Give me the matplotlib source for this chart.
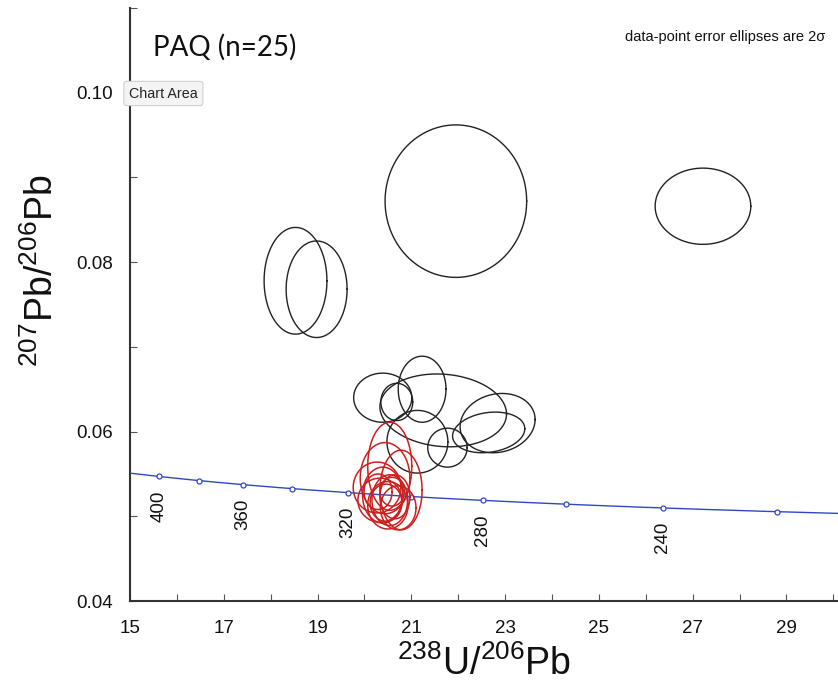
import numpy as np
import matplotlib
matplotlib.use("Agg")
import matplotlib.pyplot as plt

plt.rcParams["font.family"] = ["Liberation Sans", "DejaVu Sans"]
plt.rcParams["mathtext.fontset"] = "custom"
plt.rcParams["mathtext.rm"] = "Liberation Sans"

# Decay constants (1/yr) and present-day 238U/235U
LAMBDA_238 = 1.55125e-10
LAMBDA_235 = 9.8485e-10
U238_U235 = 137.88

# Concordia age markers (Ma) and the ones that carry a label
marker_ages = [400, 380, 360, 340, 320, 300, 280, 260, 240, 220]
labelled_ages = [400, 360, 320, 280, 240]

# Analyses plotted in black: 238U/206Pb, 207Pb/206Pb, 2-sigma half-widths, error correlation
black_u_pb = [21.95, 27.22, 18.53, 18.98, 20.39, 20.69, 21.23, 21.68, 21.13, 21.77, 22.84, 22.65]
black_pb_pb = [0.0872, 0.0866, 0.0778, 0.0768, 0.0640, 0.0635, 0.0650, 0.0625, 0.0588, 0.0581, 0.0610, 0.0599]
black_err_x = [1.51, 1.02, 0.67, 0.65, 0.62, 0.34, 0.51, 1.35, 0.65, 0.42, 0.80, 0.77]
black_err_y = [0.0090, 0.0045, 0.0063, 0.0057, 0.0029, 0.0022, 0.0039, 0.0043, 0.0037, 0.0023, 0.0035, 0.0024]
black_rho = [0.0, 0.0, 0.0, 0.0, 0.0, 0.0, 0.0, -0.1, 0.0, 0.0, 0.12, 0.18]

# Analyses plotted in red
red_u_pb = [20.54, 20.44, 20.78, 20.27, 20.39, 20.54, 20.65, 20.33, 20.50, 20.29, 20.59, 20.46, 20.72]
red_pb_pb = [0.0559, 0.0545, 0.0531, 0.0534, 0.0525, 0.0519, 0.0523, 0.0519, 0.0513, 0.0529, 0.0529, 0.0516, 0.0510]
red_err_x = [0.47, 0.53, 0.45, 0.51, 0.43, 0.38, 0.32, 0.47, 0.43, 0.30, 0.26, 0.34, 0.38]
red_err_y = [0.0052, 0.0042, 0.0047, 0.0030, 0.0033, 0.0030, 0.0026, 0.0026, 0.0028, 0.0021, 0.0017, 0.0022, 0.0026]
red_rho = [0.0] * 13


def concordia(age_ma):
    t = np.asarray(age_ma, dtype=float) * 1e6
    e238 = np.exp(LAMBDA_238 * t) - 1.0
    e235 = np.exp(LAMBDA_235 * t) - 1.0
    return 1.0 / e238, e235 / e238 / U238_U235


def ellipse(cx, cy, sx, sy, rho, n=240):
    th = np.linspace(0, 2 * np.pi, n)
    x = cx + sx * np.cos(th)
    y = cy + sy * (rho * np.cos(th) + np.sqrt(1 - rho ** 2) * np.sin(th))
    return x, y


fig = plt.figure(figsize=(8.38, 6.86), dpi=100)
ax = fig.add_axes([130 / 838, 1 - 601 / 686, 708 / 838, 593 / 686])

# Concordia curve with age markers
ages = np.linspace(195, 440, 400)
cx, cy = concordia(ages)
ax.plot(cx, cy, color="#2f48c4", lw=1.0, zorder=3)
mx, my = concordia(marker_ages)
ax.plot(mx, my, "o", ms=3.6, mfc="white", mec="#2f48c4", mew=0.9, zorder=4)
lx, ly = concordia(labelled_ages)
for age, x, y in zip(labelled_ages, lx, ly):
    ax.annotate(str(age), (x, y), xytext=(0, -14), textcoords="offset pixels",
                rotation=90, ha="center", va="top", fontsize=13.5, color="#111111")

# Error ellipses
for cxe, cye, sx, sy, r in zip(black_u_pb, black_pb_pb, black_err_x, black_err_y, black_rho):
    ex, ey = ellipse(cxe, cye, sx, sy, r)
    ax.plot(ex, ey, color="#222222", lw=1.0, zorder=5)
for cxe, cye, sx, sy, r in zip(red_u_pb, red_pb_pb, red_err_x, red_err_y, red_rho):
    ex, ey = ellipse(cxe, cye, sx, sy, r)
    ax.plot(ex, ey, color="#cc1f1f", lw=1.1, zorder=6)

ax.set_xlim(15, 30.1)
ax.set_ylim(0.04, 0.11)
ax.set_xticks(np.arange(15, 30, 2))
ax.set_xticks(np.arange(15, 31, 1), minor=True)
ax.set_yticks([0.04, 0.06, 0.08, 0.10])
ax.set_yticklabels(["0.04", "0.06", "0.08", "0.10"])
ax.set_yticks([0.05, 0.07, 0.09, 0.11], minor=True)
ax.tick_params(which="both", direction="in", length=5, width=0.8, color="#555555",
               labelsize=13.5, labelcolor="#111111")
ax.tick_params(axis="y", which="major", pad=12)
ax.tick_params(axis="x", which="major", pad=14)

for side in ("top", "right"):
    ax.spines[side].set_visible(False)
for side in ("left", "bottom"):
    ax.spines[side].set_linewidth(1.5)
    ax.spines[side].set_color("#333333")

ax.set_xlabel(r"$\mathregular{^{238}U/^{206}Pb}$", fontsize=27, labelpad=6, color="#111111")
ax.set_ylabel(r"$\mathregular{^{207}Pb/^{206}Pb}$", fontsize=27, color="#111111")
ax.yaxis.set_label_coords(-0.098, 0.558)

ax.text(0.033, 0.934, "PAQ (n=25)", transform=ax.transAxes, fontsize=20,
        family=["Lato", "DejaVu Sans"], va="center", ha="left", color="#111111")
fig.text(825 / 838, 1 - 37 / 686, "data-point error ellipses are 2\u03c3", fontsize=10.5,
         ha="right", va="center", color="#111111")
fig.text(129 / 838, 1 - 93.5 / 686, "Chart Area", fontsize=10.3, ha="left", va="center",
         color="#222222",
         bbox=dict(boxstyle="round,pad=0.36,rounding_size=0.2", fc="#f4f4f4", ec="#cfcfcf", lw=0.8))

fig.savefig("out.png", dpi=100)
